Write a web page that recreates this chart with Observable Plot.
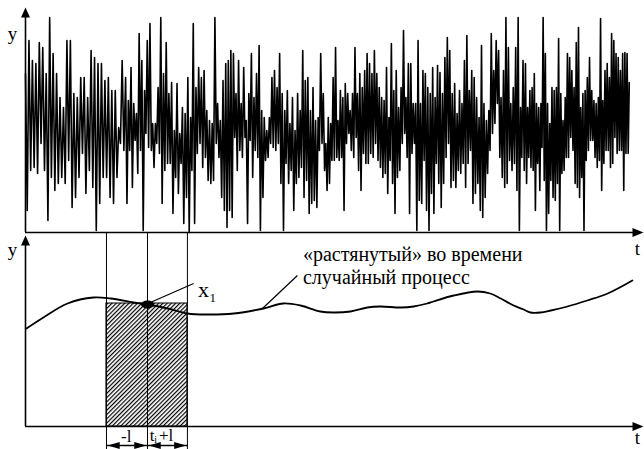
<!DOCTYPE html>
<html><head><meta charset="utf-8">
<script src="https://cdn.jsdelivr.net/npm/d3@7"></script>
<script src="https://cdn.jsdelivr.net/npm/@observablehq/plot@0.6"></script>
<style>
body{margin:0;background:#fff;}
#wrap{position:relative;width:644px;height:449px;overflow:hidden;}
#wrap svg{position:absolute;left:0;background:transparent;overflow:visible;}
</style></head><body><div id="wrap"></div>
<script>
// ---- noisy process (pairs of high, low values; baseline = 0) ----
const seg1 = [159,22, 192,62, 172,65, 169,59, 190,89, 185,62, 159,12, 215,55, 179,42, 159,49, 135,55, 125,49, 192,72, 192,25, 139,35, 135,55, 155,79, 155,39, 135,62, 182,45, 175,2, 169,29, 169,55, 152,55, 155,35, 142,29, 142,55, 105,89, 172,82];
const seg2 = [155,29, 132,82, 165,45, 129,92, 119,59, 199,82, 172,2, 142,99, 192,85, 209,82, 109,65, 109,89, 145,79, 215,29, 159,62, 190,69, 139,69, 150,19, 102,55, 149,39, 99,69, 125,9, 119,35, 155,0, 115,62, 209,9, 145,79, 165,89, 155,65, 162,75, 122,52, 112,49, 109,52, 215,89, 129,75, 112,35, 152,22];
const seg3 = [169,5, 172,22, 182,15, 179,95, 139,62, 172,82, 129,75, 165,95, 112,9, 139,92, 179,55, 135,82, 159,75, 187,2, 122,35, 115,72, 102,75, 115,89, 155,85, 162,82, 145,89, 179,49, 139,2, 122,69, 142,49, 109,62, 135,22, 102,49, 139,55, 122,65, 182,35, 152,52, 155,19, 122,29, 145,32, 112,25, 115,82, 179,89, 139,62];
const seg4 = [89,42, 115,49, 109,72, 155,72, 185,75, 112,72, 142,75, 135,22, 149,89, 139,99, 122,82, 139,75, 185,95, 139,62, 159,42, 145,79, 162,69, 179,69, 169,79, 159,75, 182,89, 159,72, 145,65, 135,55, 132,59, 165,39, 115,72, 189,49, 142,19, 162,55, 125,62, 145,89, 202,99, 135,75, 169,19, 169,79, 129,89, 129,2, 192,32, 129,29, 162,72];
const seg5 = [159,22, 145,2, 139,39, 165,19, 135,69, 167,49, 160,25, 139,49, 175,75, 195,89, 182,45, 139,52, 149,45, 119,62, 142,59, 129,69, 172,45, 197,69, 142,82, 162,29, 155,39, 135,49, 115,22, 187,15, 129,35, 112,59, 122,82, 199,99, 162,109, 192,129, 182,75, 135,55, 162,45, 215,49, 185,72, 129,62, 145,69, 185,42, 215,2, 125,75, 172,62];
const seg6 = [169,49, 125,75, 142,65, 145,62, 159,22, 129,69, 125,42, 129,85, 215,52, 179,2, 129,19, 109,52, 145,35, 142,32, 145,49, 194,2, 139,59, 112,62, 135,75, 179,75, 175,95, 162,82, 145,49, 190,45, 205,35, 125,55, 139,2, 142,72, 155,82, 175,92, 142,92, 132,75, 129,65, 135,72, 214,42, 132,69, 162,82, 169,82, 155,65, 199,69, 192,95, 179,79, 175,82, 162,82, 179,42, 180,79, 179,79];
const segments = [seg1, seg2, seg3, seg4, seg5, seg6];
const segTime = [0, 16.2, 32.4, 48.6, 64.7, 80.9, 97.7]; // time span of each segment

// ---- "stretched" process ----
const curveT = [0.16, 2.9, 6.8, 11.0, 13.75, 17.5, 19.74, 23.0, 26.2, 29.4, 33.7, 38.5, 41.7, 44.5, 47.7, 49.8, 52.6, 55.3, 57.4, 60.7, 62.8, 65.0, 66.0, 69.3, 73.1, 75.2, 76.9, 79.0, 80.6, 81.7, 83.3, 85.0, 87.7, 90.9, 94.2, 98.2];
const curveU = [98, 109, 123, 129, 128, 124, 122, 118, 113, 112, 113, 118, 123, 121, 115, 114, 115, 119, 120, 119, 120, 123, 125, 131, 135, 133, 128, 121, 117, 114, 114, 116, 120, 126, 133, 146];

// window: t_i - l, t_i, t_i + l
const windowT = [13.1, 19.74, 26.2];
const xi = {t: 19.74, u: 122};
const windowTop = 123;

const labelAxisY = "y", labelAxisT = "t";
const note1 = "«растянутый» во времени";
const note2 = "случайный процесс";

// ---- build tables ----
const sig = [];
segments.forEach((s, k) => {
  const a = segTime[k], b = segTime[k + 1];
  s.forEach((v, i) => sig.push({t: a + (b - a) * i / s.length, v}));
});
sig.push({t: segTime[6], v: 150});
const curve = curveT.map((t, i) => ({t, u: curveU[i]}));

const triUp = {draw(c){c.moveTo(0,0);c.lineTo(4.5,10);c.lineTo(-4.5,10);c.closePath();}};
const triRight = {draw(c){c.moveTo(0,0);c.lineTo(-11,4.5);c.lineTo(-11,-4.5);c.closePath();}};
const hLeft = {draw(c){c.moveTo(0,0);c.lineTo(12,3.5);c.lineTo(12,-3.5);c.closePath();}};
const hRight = {draw(c){c.moveTo(0,0);c.lineTo(-12,3.5);c.lineTo(-12,-3.5);c.closePath();}};
const ell = {draw(c){const rx=6.5,ry=4,k=0.5523;c.moveTo(rx,0);c.bezierCurveTo(rx,ry*k,rx*k,ry,0,ry);c.bezierCurveTo(-rx*k,ry,-rx,ry*k,-rx,0);c.bezierCurveTo(-rx,-ry*k,-rx*k,-ry,0,-ry);c.bezierCurveTo(rx*k,-ry,rx,-ry*k,rx,0);c.closePath();}};

const font = "'Liberation Serif', 'Times New Roman', serif";
const X = {domain: [0, 100], axis: null};
const txt = (rows, extra = {}) => Plot.text(rows, {x: "t", y: "u", text: "s", fontFamily: font, fill: "#000", ...extra});

const topPlot = Plot.plot({
  width: 644, height: 256, marginLeft: 25, marginRight: 1, marginTop: 8, marginBottom: 24,
  x: X, y: {domain: [0, 224], axis: null},
  marks: [
    Plot.line(sig, {x: "t", y: "v", stroke: "#000", strokeWidth: 1.6}),
    Plot.ruleX([0], {y1: 0, y2: 216, stroke: "#000", strokeWidth: 1.6}),
    Plot.ruleY([0], {x1: 0, x2: 98.5, stroke: "#000", strokeWidth: 1.6}),
    Plot.dot([{t: 0, v: 225}], {x: "t", y: "v", symbol: triUp, fill: "#000", stroke: "none"}),
    Plot.dot([{t: 100, v: 0}], {x: "t", y: "v", symbol: triRight, fill: "#000", stroke: "none"}),
    txt([{t: -2.1, u: 199, s: labelAxisY}], {fontSize: 19}),
    txt([{t: 99.0, u: -16, s: labelAxisT}], {fontSize: 19})
  ]
});
topPlot.style.top = "0px";

const bottomPlot = Plot.plot({
  width: 644, height: 217, marginLeft: 25, marginRight: 1, marginTop: 0, marginBottom: 23,
  x: X, y: {domain: [0, 194], axis: null},
  marks: [
    Plot.rect([{x1: windowT[0], x2: windowT[2], y1: 0, y2: windowTop}], {x1: "x1", x2: "x2", y1: "y1", y2: "y2", fill: "url(#hatch)", stroke: "#000", strokeWidth: 1}),
    Plot.ruleX(windowT, {y1: -23, y2: 194, stroke: "#000", strokeWidth: 1}),
    Plot.line(curve, {x: "t", y: "u", curve: "catmull-rom", stroke: "#000", strokeWidth: 1.8}),
    Plot.dot([xi], {x: "t", y: "u", symbol: ell, fill: "#000", stroke: "none"}),
    Plot.link([{a: 20.2, b: 124, c: 27.2, d: 143}, {a: 38.35, b: 118, c: 44.0, d: 151}], {x1: "a", y1: "b", x2: "c", y2: "d", stroke: "#000", strokeWidth: 1.2}),
    Plot.ruleX([0], {y1: 0, y2: 182, stroke: "#000", strokeWidth: 1.6}),
    Plot.ruleY([0], {x1: 0, x2: 98.5, stroke: "#000", strokeWidth: 1.6}),
    Plot.dot([{t: 0, u: 191}], {x: "t", y: "u", symbol: triUp, fill: "#000", stroke: "none"}),
    Plot.dot([{t: 100, u: 0}], {x: "t", y: "u", symbol: triRight, fill: "#000", stroke: "none"}),
    // double arrows under the window
    Plot.link([{a: windowT[0], b: windowT[1]}, {a: windowT[1], b: windowT[2]}], {x1: "a", x2: "b", y1: -19, y2: -19, stroke: "#000", strokeWidth: 1.5}),
    Plot.dot([windowT[0] + 0.2, windowT[1] + 0.2], {x: d => d, y: -19, symbol: hLeft, fill: "#000", stroke: "none"}),
    Plot.dot([windowT[1] - 0.2, windowT[2] - 0.2], {x: d => d, y: -19, symbol: hRight, fill: "#000", stroke: "none"}),
    // labels
    txt([{t: -2.1, u: 177, s: labelAxisY}], {fontSize: 19}),
    txt([{t: 99.0, u: -11, s: labelAxisT}], {fontSize: 19}),
    txt([{t: 28.8, u: 137, s: "x"}], {fontSize: 22}),
    txt([{t: 30.3, u: 129, s: "1"}], {fontSize: 13}),
    txt([{t: 44.9, u: 172, s: note1}, {t: 44.9, u: 149, s: note2}], {textAnchor: "start", fontSize: 20}),
    txt([{t: 16.3, u: -10, s: "-l"}], {fontSize: 17}),
    txt([{t: 20.5, u: -9, s: "t"}], {fontSize: 17}),
    txt([{t: 21.05, u: -13, s: "i"}], {fontSize: 10}),
    txt([{t: 21.6, u: -9, s: "+l"}], {fontSize: 17, textAnchor: "start"})
  ]
});
bottomPlot.style.top = "232px";

// hatch pattern definition
const ns = "http://www.w3.org/2000/svg";
const defs = document.createElementNS(ns, "defs");
const pat = document.createElementNS(ns, "pattern");
pat.setAttribute("id", "hatch");
pat.setAttribute("patternUnits", "userSpaceOnUse");
pat.setAttribute("width", "3");
pat.setAttribute("height", "3");
pat.setAttribute("patternTransform", "rotate(45)");
const bg = document.createElementNS(ns, "rect");
bg.setAttribute("width", "3"); bg.setAttribute("height", "3"); bg.setAttribute("fill", "#fff");
const ln = document.createElementNS(ns, "line");
ln.setAttribute("x1", "0.6"); ln.setAttribute("y1", "0"); ln.setAttribute("x2", "0.6"); ln.setAttribute("y2", "3");
ln.setAttribute("stroke", "#000"); ln.setAttribute("stroke-width", "1.2");
pat.appendChild(bg); pat.appendChild(ln); defs.appendChild(pat);
bottomPlot.insertBefore(defs, bottomPlot.firstChild);

const wrap = document.getElementById("wrap");
wrap.appendChild(bottomPlot);
wrap.appendChild(topPlot);
</script></body></html>
